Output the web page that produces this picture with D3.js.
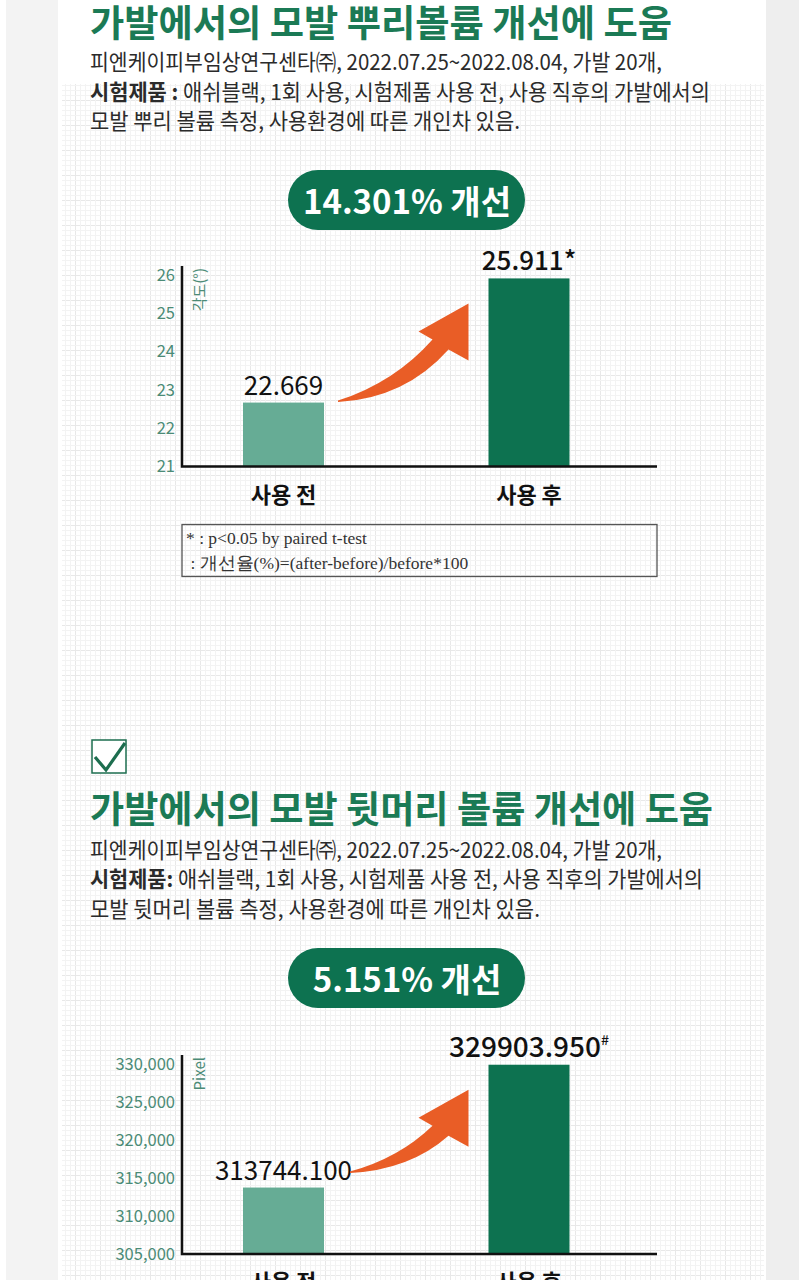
<!DOCTYPE html>
<html>
<head>
<meta charset="utf-8">
<script src="https://cdn.jsdelivr.net/npm/d3@7"></script>
<style>
body { margin: 0; background: #fff; }
svg { display: block; font-family: 'Noto Sans CJK KR', 'Noto Sans', sans-serif; }
</style>
</head>
<body>
<div id="chart"></div>
<script>
var categories = ['사용 전', '사용 후']

// 뿌리 볼륨 (각도)
var rootValues = [22.669, 25.911]
var rootTicks = [21, 22, 23, 24, 25, 26]

// 뒷머리 볼륨 (pixel)
var backValues = [313744.100, 329903.950]
var backTicks = [305000, 310000, 315000, 320000, 325000, 330000]

var titles = ['가발에서의 모발 뿌리볼륨 개선에 도움', '가발에서의 모발 뒷머리 볼륨 개선에 도움']

var rootNotes = [
  ['', '피엔케이피부임상연구센타㈜, 2022.07.25~2022.08.04, 가발 20개,'],
  ['시험제품 : ', '애쉬블랙, 1회 사용, 시험제품 사용 전, 사용 직후의 가발에서의'],
  ['', '모발 뿌리 볼륨 측정, 사용환경에 따른 개인차 있음.']
]
var backNotes = [
  ['', '피엔케이피부임상연구센타㈜, 2022.07.25~2022.08.04, 가발 20개,'],
  ['시험제품: ', '애쉬블랙, 1회 사용, 시험제품 사용 전, 사용 직후의 가발에서의'],
  ['', '모발 뒷머리 볼륨 측정, 사용환경에 따른 개인차 있음.']
]

var footnotes = ['* : p<0.05 by paired t-test', ' : 개선율(%)=(after-before)/before*100']


var W = 799, H = 1280
var green = '#0d7250', lightGreen = '#66ac95', tickColor = '#4b8b76', orange = '#e95d26'

var svg = d3.select('#chart').append('svg')
  .attr('width', W)
  .attr('height', H)

// page: grey margins, white sheet, faint graph paper
var pat = svg.append('defs').append('pattern')
  .attr('id', 'grid')
  .attr('patternUnits', 'userSpaceOnUse')
  .attr('width', 25).attr('height', 25)
d3.range(0, 25, 5).forEach(v => {
  pat.append('path')
    .attr('d', 'M' + [v + .5, 0] + 'V25M' + [0, v + .5] + 'H25')
    .attr('stroke', v == 0 ? '#e8e8e8' : '#f3f3f3')
    .attr('stroke-width', 1)
})

svg.append('rect').attr('x', 6).attr('width', 52).attr('height', H).attr('fill', '#f3f3f3')
svg.append('rect').attr('x', 766).attr('width', W - 766).attr('height', H).attr('fill', '#eeeeee')
svg.append('rect').attr('x', 62).attr('y', 84).attr('width', 702).attr('height', H - 84).attr('fill', 'url(#grid)')


function drawHeader(o){
  svg.append('text')
    .attr('x', 90).attr('y', o.titleY)
    .attr('font-size', 37).attr('font-weight', 700)
    .attr('fill', '#1b7a55')
    .attr('textLength', o.titleW).attr('lengthAdjust', 'spacingAndGlyphs')
    .text(o.title)

  o.notes.forEach((d, i) => {
    var t = svg.append('text')
      .attr('x', 90).attr('y', o.noteY[i])
      .attr('font-size', 21.5).attr('fill', '#2b2b2b')
      .attr('textLength', o.noteW[i]).attr('lengthAdjust', 'spacingAndGlyphs')
    if (d[0]) t.append('tspan').attr('font-weight', 700).text(d[0])
    t.append('tspan').text(d[1])
  })

  var pct = (o.values[1] - o.values[0])/o.values[0]*100
  svg.append('rect')
    .attr('x', 288).attr('y', o.pillY)
    .attr('width', 237).attr('height', 60).attr('rx', 30)
    .attr('fill', green)
  svg.append('text')
    .attr('x', 407).attr('y', o.pillY + 44)
    .attr('text-anchor', 'middle')
    .attr('font-size', 33).attr('font-weight', 700)
    .attr('fill', '#fff')
    .text(d3.format('.3f')(pct) + '% 개선')
}


function drawChart(o){
  var x = d3.scalePoint().domain(categories).range([283.5, 529])
  var bw = 81
  var y = d3.scaleLinear()
    .domain([o.ticks[0], o.ticks[o.ticks.length - 1]])
    .range([o.axisY, o.topTickY])

  var g = svg.append('g')

  var yAxis = g.append('g')
    .attr('transform', 'translate(182,0)')
    .call(d3.axisLeft(y).tickValues(o.ticks).tickSize(0).tickPadding(7).tickFormat(o.tickFmt))
  yAxis.select('.domain').remove()
  yAxis.selectAll('text')
    .attr('font-size', 16.5)
    .attr('font-family', "'Noto Sans CJK KR', sans-serif")
    .attr('fill', tickColor)

  g.append('text')
    .attr('transform', 'translate(205,' + (o.axisTop + 2) + ') rotate(-90)')
    .attr('text-anchor', 'end')
    .attr('font-size', 15)
    .attr('fill', tickColor)
    .text(o.yLabel)

  g.selectAll('rect.bar').data(o.values).join('rect')
    .attr('class', 'bar')
    .attr('x', (d, i) => x(categories[i]) - bw/2)
    .attr('width', bw)
    .attr('y', d => y(d))
    .attr('height', d => o.axisY - y(d))
    .attr('fill', (d, i) => i ? green : lightGreen)

  var labels = g.selectAll('text.val').data(o.values).join('text')
    .attr('class', 'val')
    .attr('x', (d, i) => x(categories[i]))
    .attr('y', d => y(d) - 8)
    .attr('text-anchor', 'middle')
    .attr('font-size', (d, i) => o.valSize[i])
    .attr('font-weight', (d, i) => i ? 500 : 400)
    .attr('fill', '#111')
  labels.append('tspan').text(d => d3.format('.3f')(d))
  labels.filter((d, i) => i == 1).append('tspan')
    .attr('font-size', o.markSup ? 14 : 26)
    .attr('dy', o.markSup ? -12 : 0)
    .text(o.mark)

  // axes
  g.append('path')
    .attr('d', 'M182,' + o.axisTop + 'V' + o.axisY + 'H657')
    .attr('fill', 'none').attr('stroke', '#111').attr('stroke-width', 2.5)

  g.selectAll('text.cat').data(categories).join('text')
    .attr('class', 'cat')
    .attr('x', d => x(d))
    .attr('y', o.axisY + 36)
    .attr('text-anchor', 'middle')
    .attr('font-size', 22).attr('font-weight', 700)
    .attr('fill', '#111')
    .text(d => d)

  // curved arrow from before bar to after bar
  var t = [x(categories[0]) + bw/2 + o.tailDx, y(o.values[0]) + o.tailDy]
  var p = [x(categories[1]) - bw/2 - 20, y(o.values[1]) + 25]
  var nt = [p[0] - 36, p[1] + 36], nb = [p[0] - 20, p[1] + 46]
  var c1 = [t[0] + .6*(nt[0] - t[0]), t[1] - .3*(t[1] - nt[1])]
  var c2 = [t[0] + .61*(nb[0] - t[0]), t[1] - .05*(t[1] - nb[1])]
  g.append('path')
    .attr('d', 'M' + t + 'Q' + c1 + ' ' + nt + 'L' + [p[0] - 50, p[1] + 28] + 'L' + p +
      'L' + [p[0], p[1] + 57] + 'L' + nb + 'Q' + c2 + ' ' + [t[0], t[1] + 1.5] + 'Z')
    .attr('fill', orange)

  if (o.footnotes){
    g.append('rect')
      .attr('x', 182).attr('y', o.axisY + 58)
      .attr('width', 475).attr('height', 52)
      .attr('fill', 'none').attr('stroke', '#555').attr('stroke-width', 1.3)
    g.selectAll('text.fn').data(o.footnotes).join('text')
      .attr('class', 'fn')
      .attr('x', 186)
      .attr('y', (d, i) => o.axisY + 77 + i*25)
      .attr('font-family', "'Liberation Serif', 'DejaVu Serif', serif")
      .attr('font-size', 17.5)
      .attr('fill', '#333')
      .attr('xml:space', 'preserve')
      .text(d => d)
  }
}


drawHeader({title: titles[0], titleY: 37, titleW: 582, notes: rootNotes, noteY: [70, 100, 129],
  noteW: [572, 620, 430], pillY: 170, values: rootValues})
drawChart({values: rootValues, ticks: rootTicks, tickFmt: d3.format('d'), axisY: 466.5, topTickY: 275,
  axisTop: 266, yLabel: '각도(°)', mark: '*', markSup: false, valSize: [26, 26],
  tailDx: 14, tailDy: -2, footnotes: footnotes})

// checkbox
svg.append('rect')
  .attr('x', 92).attr('y', 740).attr('width', 34).attr('height', 33)
  .attr('fill', '#fff').attr('stroke', '#1d6e4f').attr('stroke-width', 1.5)
svg.append('path')
  .attr('d', 'M95,757L106,770L125,743')
  .attr('fill', 'none').attr('stroke', '#1d6e4f').attr('stroke-width', 3.2)

drawHeader({title: titles[1], titleY: 823, titleW: 623, notes: backNotes, noteY: [858, 887, 917],
  noteW: [572, 613, 450], pillY: 948, values: backValues})
drawChart({values: backValues, ticks: backTicks, tickFmt: d3.format(','), axisY: 1254, topTickY: 1064,
  axisTop: 1055, yLabel: 'Pixel', mark: '#', markSup: true, valSize: [26, 28],
  tailDx: 26, tailDy: -16})
</script>
</body>
</html>
